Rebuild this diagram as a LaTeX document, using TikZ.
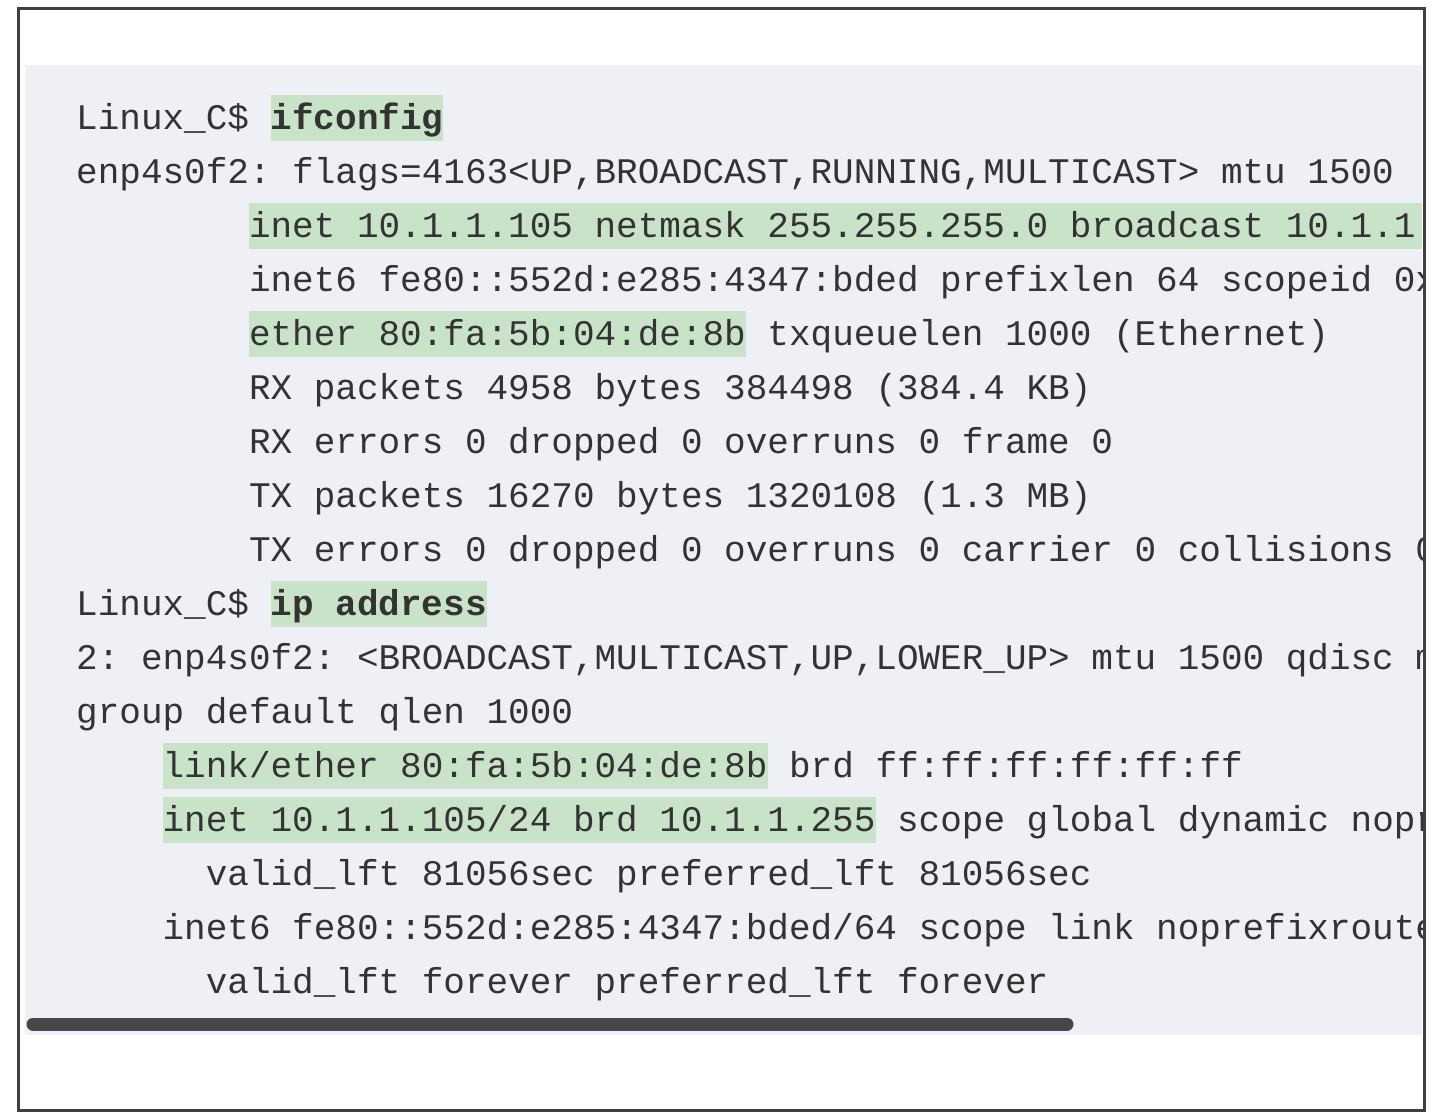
\documentclass[tikz,border=0pt]{standalone}
\usepackage{fontspec}
\setmonofont{Liberation Mono}
\definecolor{hlgreen}{HTML}{C9E3C9}
\definecolor{codebg}{HTML}{EEF0F5}
\definecolor{txt}{HTML}{333333}
\newcommand\hlx[1]{{\setlength{\fboxsep}{0pt}\colorbox{hlgreen}{\rule[-12pt]{0pt}{46pt}#1}}}
\tikzset{ln/.style={anchor=base west,inner sep=0pt,text=txt,font=\fontsize{36pt}{40pt}\ttfamily}}
\begin{document}
\begin{tikzpicture}[x=1pt,y=-1pt]
\useasboundingbox (0,0) rectangle (1440,1117);
\fill[white] (0,0) rectangle (1440,1117);
\fill[codebg] (25,65) rectangle (1422,1035);
\begin{scope}
\clip (25,65) rectangle (1422,1035);
\def\cw{21.6}
\node[ln] (l0) at (76,129) {Linux\_C\$ \hlx{\bfseries ifconfig}};
\node[ln] (l1) at (76,183) {enp4s0f2: flags=4163<UP,BROADCAST,RUNNING,MULTICAST> mtu 1500};
\node[ln] (l2) at (76+8*\cw,237) {\hlx{inet 10.1.1.105 netmask 255.255.255.0 broadcast 10.1.1.255}};
\node[ln] (l3) at (76+8*\cw,291) {inet6 fe80::552d:e285:4347:bded prefixlen 64 scopeid 0x20<link>};
\node[ln] (l4) at (76+8*\cw,345) {\hlx{ether 80:fa:5b:04:de:8b} txqueuelen 1000 (Ethernet)};
\node[ln] (l5) at (76+8*\cw,399) {RX packets 4958 bytes 384498 (384.4 KB)};
\node[ln] (l6) at (76+8*\cw,453) {RX errors 0 dropped 0 overruns 0 frame 0};
\node[ln] (l7) at (76+8*\cw,507) {TX packets 16270 bytes 1320108 (1.3 MB)};
\node[ln] (l8) at (76+8*\cw,561) {TX errors 0 dropped 0 overruns 0 carrier 0 collisions 0};
\node[ln] (l9) at (76,615) {Linux\_C\$ \hlx{\bfseries ip address}};
\node[ln] (l10) at (76,669) {2: enp4s0f2: <BROADCAST,MULTICAST,UP,LOWER\_UP> mtu 1500 qdisc mq state UP};
\node[ln] (l11) at (76,723) {group default qlen 1000};
\node[ln] (l12) at (76+4*\cw,777) {\hlx{link/ether 80:fa:5b:04:de:8b} brd ff:ff:ff:ff:ff:ff};
\node[ln] (l13) at (76+4*\cw,831) {\hlx{inet 10.1.1.105/24 brd 10.1.1.255} scope global dynamic noprefixroute enp4s0f2};
\node[ln] (l14) at (76+6*\cw,885) {valid\_lft 81056sec preferred\_lft 81056sec};
\node[ln] (l15) at (76+4*\cw,939) {inet6 fe80::552d:e285:4347:bded/64 scope link noprefixroute};
\node[ln] (l16) at (76+6*\cw,993) {valid\_lft forever preferred\_lft forever};
\end{scope}
\coordinate (s1) at (33,1024);
\coordinate (s2) at (1067,1024);
\draw[line width=13pt,line cap=round,color=black!72] (s1) -- (s2);
\draw[line width=3pt,color=black!75] (18,8) rectangle (1424,1110);
\end{tikzpicture}
\end{document}
